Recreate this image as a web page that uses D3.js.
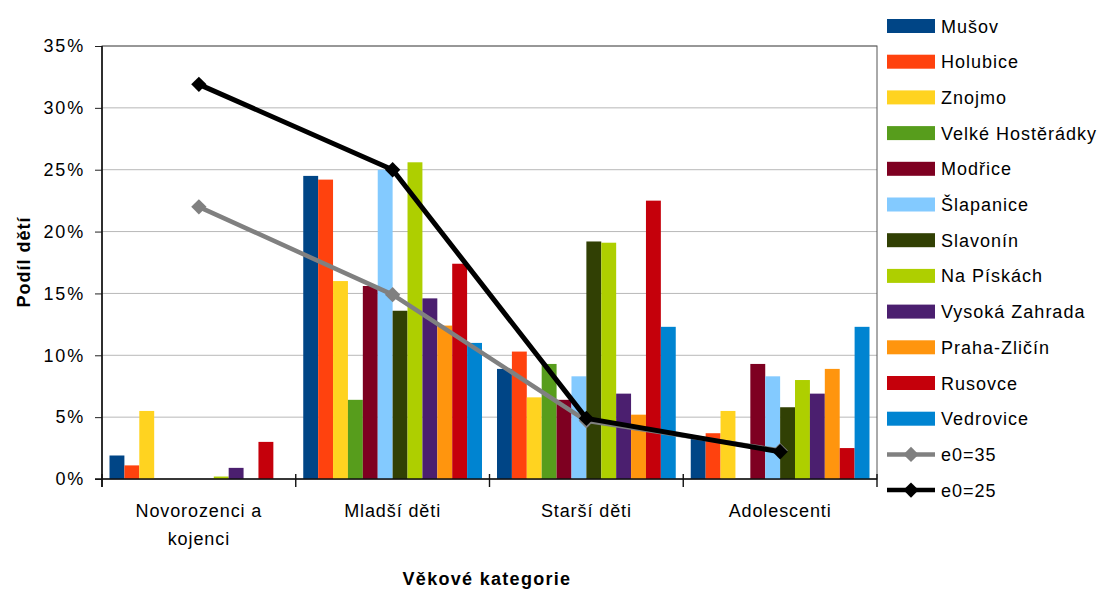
<!DOCTYPE html>
<html>
<head>
    <meta charset="utf-8">
    <title>Podíl dětí</title>
    <script src="https://d3js.org/d3.v7.min.js"></script>
    <style>
        body { margin: 0; background: #fff; }
        text { font-family: "Liberation Sans", Arial, sans-serif; fill: #000; }
    </style>
</head>
<body>
    <svg width="1105" height="589" id="mainSvg"></svg>
    <script>
        const categories = ["Novorozenci a kojenci", "Mladší děti", "Starší děti", "Adolescenti"];
        const sites = ["Mušov", "Holubice", "Znojmo", "Velké Hostěrádky", "Modřice", "Šlapanice",
            "Slavonín", "Na Pískách", "Vysoká Zahrada", "Praha-Zličín", "Rusovce", "Vedrovice"];
        const siteColors = ["#004586", "#ff420e", "#ffd320", "#579d1c", "#7e0021", "#83caff",
            "#314004", "#aecf00", "#4b1f6f", "#ff950e", "#c5000b", "#0084d1"];
        // podíl v % pro každou lokalitu, pořadí jako categories
        const siteValues = [
            [1.9, 24.5, 8.9, 3.4],
            [1.1, 24.2, 10.3, 3.7],
            [5.5, 16.0, 6.6, 5.5],
            [0, 6.4, 9.3, 0],
            [0, 15.6, 6.4, 9.3],
            [0, 25.0, 8.3, 8.3],
            [0, 13.6, 19.2, 5.8],
            [0.2, 25.6, 19.1, 8.0],
            [0.9, 14.6, 6.9, 6.9],
            [0, 12.4, 5.2, 8.9],
            [3.0, 17.4, 22.5, 2.5],
            [0, 11.0, 12.3, 12.3]
        ];
        const e0_35 = [22.0, 14.9, 4.7, 2.3];
        const e0_25 = [31.9, 25.0, 4.9, 2.2];
        const yTicks = [0, 5, 10, 15, 20, 25, 30, 35];

        const svg = d3.select("#mainSvg");
        const plotLeft = 102, plotRight = 877, plotTop = 46, plotBottom = 479;

        const x0 = d3.scaleBand().domain(categories).range([plotLeft, plotRight]);
        const bw = x0.bandwidth();
        const x1 = d3.scaleBand().domain(sites).range([7.5, bw - 7.5]);
        const y = d3.scaleLinear().domain([0, 35]).range([plotBottom, plotTop]);

        // mřížka
        svg.append("g").selectAll("line").data(yTicks.slice(1)).join("line")
            .attr("x1", plotLeft).attr("x2", plotRight)
            .attr("y1", d => y(d)).attr("y2", d => y(d))
            .attr("stroke", "#b8b8b8").attr("stroke-width", 1);

        svg.append("rect")
            .attr("x", plotLeft).attr("y", plotTop)
            .attr("width", plotRight - plotLeft).attr("height", plotBottom - plotTop)
            .attr("fill", "none").attr("stroke", "#555").attr("stroke-width", 1);

        // sloupce
        const groups = svg.append("g").selectAll("g").data(sites).join("g")
            .attr("fill", (d, i) => siteColors[i]);
        groups.selectAll("rect")
            .data((s, i) => siteValues[i].map((v, j) => ({ site: s, cat: categories[j], v: v })))
            .join("rect")
            .attr("x", d => x0(d.cat) + x1(d.site))
            .attr("width", x1.bandwidth())
            .attr("y", d => y(d.v))
            .attr("height", d => y(0) - y(d.v));

        // osy
        const yAxis = svg.append("g")
            .attr("transform", `translate(${plotLeft},0)`)
            .call(d3.axisLeft(y).tickValues(yTicks).tickSize(7).tickPadding(10).tickFormat(d => d + "%"));
        yAxis.select(".domain").remove();
        yAxis.selectAll("line").attr("stroke", "#222");
        yAxis.selectAll("text").attr("font-size", 18).attr("letter-spacing", "1.8px")
            .attr("font-family", "Liberation Sans, Arial, sans-serif").attr("fill", "#000");

        svg.append("line").attr("x1", plotLeft).attr("x2", plotLeft).attr("y1", plotTop).attr("y2", plotBottom + 8)
            .attr("stroke", "#111").attr("stroke-width", 1.6);
        svg.append("line").attr("x1", plotLeft - 7).attr("x2", plotRight).attr("y1", plotBottom).attr("y2", plotBottom)
            .attr("stroke", "#111").attr("stroke-width", 1.6);

        const catTicks = categories.map(c => x0(c)).concat([plotRight]);
        svg.append("g").selectAll("line").data(catTicks).join("line")
            .attr("x1", d => d).attr("x2", d => d)
            .attr("y1", plotBottom - 5).attr("y2", plotBottom + 8)
            .attr("stroke", "#111").attr("stroke-width", 1.4);

        const catLabels = svg.append("g").selectAll("text").data(categories).join("text")
            .attr("x", d => x0(d) + bw / 2)
            .attr("y", 517)
            .attr("text-anchor", "middle")
            .attr("font-size", 18)
            .attr("letter-spacing", "0.9px");
        catLabels.each(function (d) {
            const parts = d === "Novorozenci a kojenci" ? ["Novorozenci a", "kojenci"] : [d];
            d3.select(this).selectAll("tspan").data(parts).join("tspan")
                .attr("x", x0(d) + bw / 2)
                .attr("dy", (p, i) => i === 0 ? 0 : 28)
                .text(p => p);
        });

        // názvy os
        svg.append("text")
            .attr("x", 487).attr("y", 585)
            .attr("text-anchor", "middle")
            .attr("font-size", 18).attr("font-weight", "bold")
            .attr("letter-spacing", "1.3px")
            .text("Věkové kategorie");
        svg.append("text")
            .attr("transform", "translate(30,262) rotate(-90)")
            .attr("text-anchor", "middle")
            .attr("font-size", 18).attr("font-weight", "bold")
            .attr("letter-spacing", "1px")
            .text("Podíl dětí");

        // křivky
        const lineGen = d3.line().x((d, i) => x0(categories[i]) + bw / 2).y(d => y(d));
        const diamond = d3.symbol().type(d3.symbolDiamond2).size(150);
        const drawSeries = function (vals, color, width) {
            svg.append("path").datum(vals)
                .attr("d", lineGen)
                .attr("fill", "none").attr("stroke", color)
                .attr("stroke-width", width).attr("stroke-linejoin", "round");
            svg.append("g").selectAll("path").data(vals).join("path")
                .attr("transform", (d, i) => `translate(${x0(categories[i]) + bw / 2},${y(d)})`)
                .attr("d", diamond)
                .attr("fill", color);
        };
        drawSeries(e0_35, "#808080", 4.5);
        drawSeries(e0_25, "#000", 5);

        // legenda
        const legendItems = sites.map((s, i) => ({ name: s, color: siteColors[i], line: false }))
            .concat([{ name: "e0=35", color: "#808080", line: true }, { name: "e0=25", color: "#000", line: true }]);
        const legend = svg.append("g").selectAll("g").data(legendItems).join("g")
            .attr("transform", (d, i) => `translate(887,${26 + i * 35.7})`);
        legend.filter(d => !d.line).append("rect")
            .attr("x", 0).attr("y", -7).attr("width", 48).attr("height", 14)
            .attr("fill", d => d.color);
        legend.filter(d => d.line).append("line")
            .attr("x1", 0).attr("x2", 48).attr("y1", 0).attr("y2", 0)
            .attr("stroke", d => d.color).attr("stroke-width", 4.5);
        legend.filter(d => d.line).append("path")
            .attr("transform", "translate(24,0)")
            .attr("d", diamond)
            .attr("fill", d => d.color);
        legend.append("text")
            .attr("x", 54).attr("y", 6.5)
            .attr("font-size", 18).attr("letter-spacing", "1px")
            .text(d => d.name);
    </script>
</body>
</html>
